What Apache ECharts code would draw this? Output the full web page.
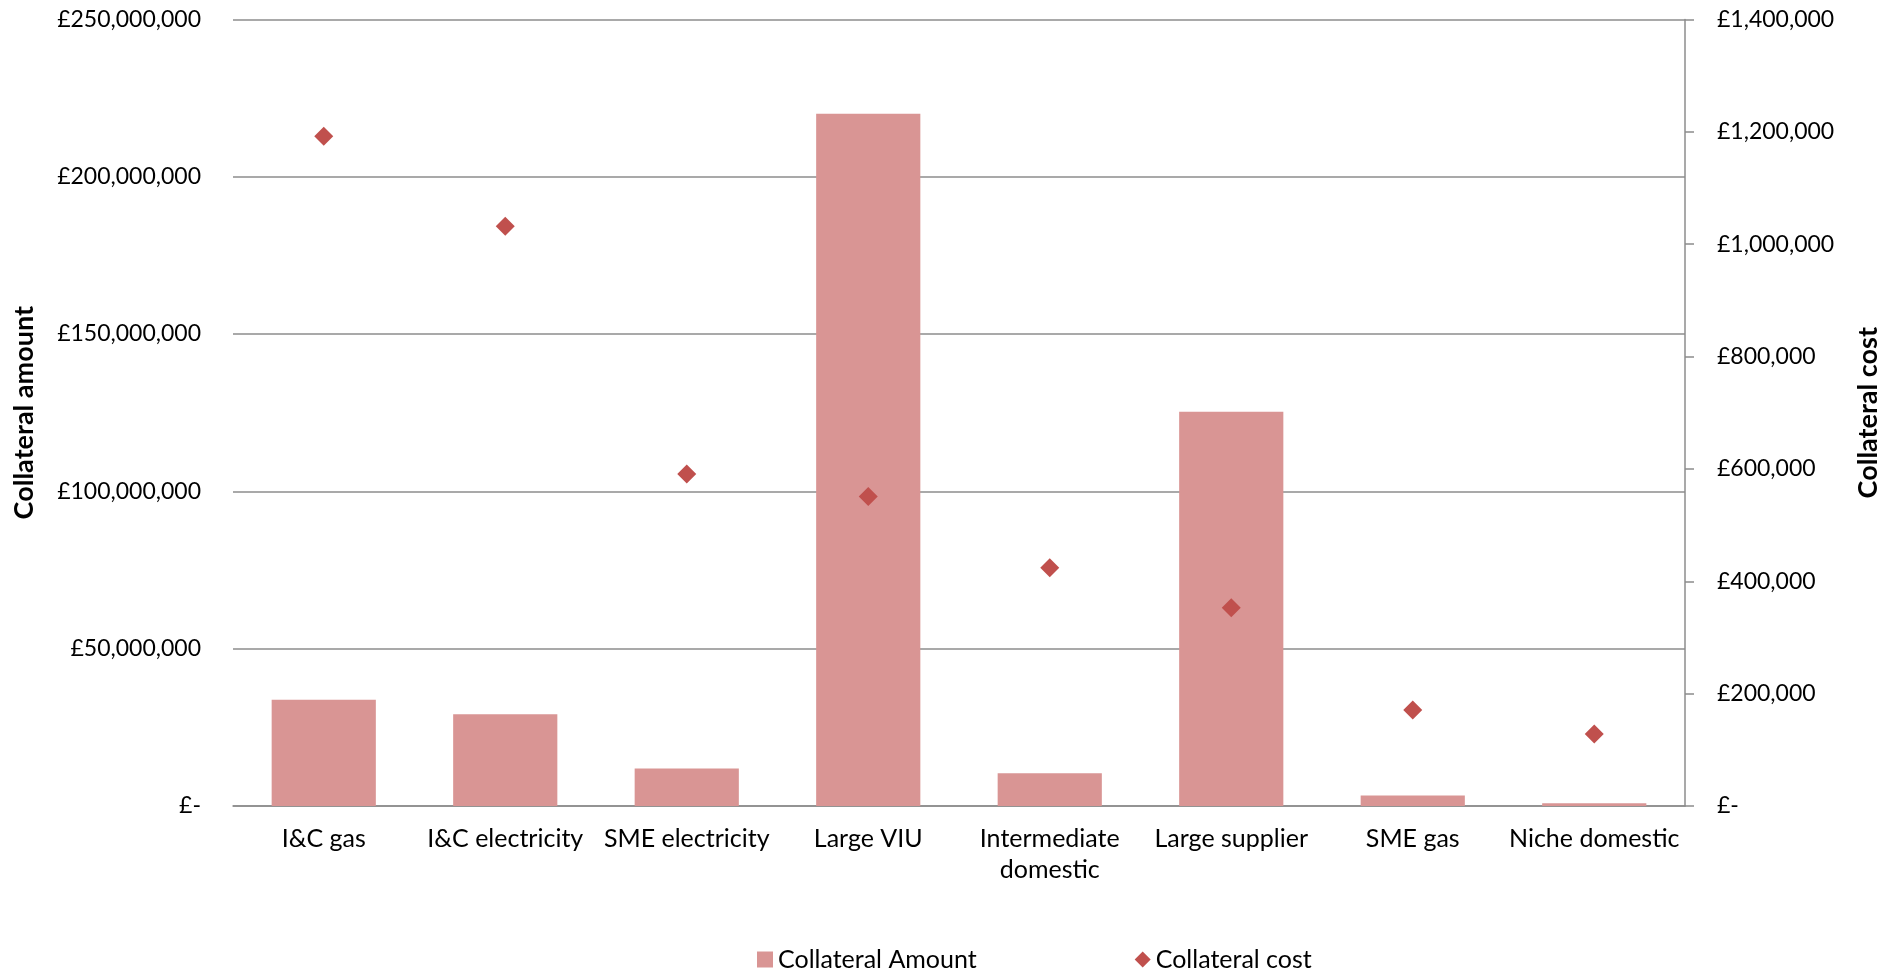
<!DOCTYPE html>
<html>
<head>
<meta charset="utf-8">
<script src="https://cdn.jsdelivr.net/npm/echarts@6/dist/echarts.min.js"></script>
<style>
  html, body { margin: 0; padding: 0; background: #ffffff; }
  #chart { width: 1901px; height: 975px; }
</style>
</head>
<body>
<div id="chart"></div>
<script>
// Supplier segments
const categories = [
  'I&C gas', 'I&C electricity', 'SME electricity', 'Large VIU',
  'Intermediate domestic', 'Large supplier', 'SME gas', 'Niche domestic'
];
// Collateral amount (£), left axis
const collateralAmount = [33800000, 29200000, 11900000, 220000000, 10400000, 125300000, 3300000, 900000];
// Collateral cost (£), right axis
const collateralCost = [1192000, 1032000, 591000, 551000, 424000, 353000, 171000, 128000];

const FONT = '"Lato", "Liberation Sans", sans-serif';
const GRID_GREY = '#8c8c8c';

function pounds(v) {
  return v === 0 ? '£-' : '£' + v.toLocaleString('en-GB');
}

const chart = echarts.init(document.getElementById('chart'), null, { renderer: 'canvas' });

chart.setOption({
  backgroundColor: '#ffffff',
  animation: false,
  textStyle: { fontFamily: FONT, color: '#000' },
  grid: { left: 233, right: 216, top: 19.4, bottom: 169, containLabel: false },
  legend: {
    left: 752,
    top: 942,
    itemWidth: 16,
    itemHeight: 16,
    itemGap: 158,
    textStyle: { fontFamily: FONT, fontSize: 25, color: '#000' },
    data: [
      { name: 'Collateral Amount', icon: 'rect' },
      { name: 'Collateral cost', icon: 'diamond', itemStyle: { color: '#C0504D', opacity: 1 } }
    ]
  },
  xAxis: {
    type: 'category',
    data: categories,
    axisLine: { show: true, lineStyle: { color: GRID_GREY, width: 1.5 } },
    axisTick: { show: false },
    axisLabel: {
      interval: 0,
      margin: 17.5,
      fontFamily: FONT,
      fontSize: 25,
      lineHeight: 31,
      color: '#000',
      formatter: function (v) {
        if (v.length > 18) {
          const i = v.lastIndexOf(' ');
          return v.slice(0, i) + '\n' + v.slice(i + 1);
        }
        return v;
      }
    }
  },
  yAxis: [
    {
      type: 'value',
      min: 0,
      max: 250000000,
      interval: 50000000,
      name: 'Collateral amount',
      nameLocation: 'middle',
      nameGap: 195,
      nameTextStyle: { fontFamily: FONT, fontSize: 27, fontWeight: 'bold', color: '#000' },
      axisLine: { show: false },
      axisTick: { show: false },
      axisLabel: { margin: 32, fontFamily: FONT, fontSize: 23, color: '#000', formatter: pounds },
      splitLine: { show: true, lineStyle: { color: GRID_GREY, width: 1.5 } }
    },
    {
      type: 'value',
      min: 0,
      max: 1400000,
      interval: 200000,
      position: 'right',
      name: 'Collateral cost',
      nameLocation: 'middle',
      nameGap: 170,
      nameRotate: 90,
      nameTextStyle: { fontFamily: FONT, fontSize: 27, fontWeight: 'bold', color: '#000' },
      axisLine: { show: true, lineStyle: { color: GRID_GREY, width: 1.5 } },
      axisTick: { show: true, inside: false, length: 9, lineStyle: { color: GRID_GREY, width: 1.5 } },
      axisLabel: { margin: 32, fontFamily: FONT, fontSize: 23, color: '#000', formatter: pounds },
      splitLine: { show: false }
    }
  ],
  series: [
    {
      name: 'Collateral Amount',
      type: 'bar',
      yAxisIndex: 0,
      data: collateralAmount,
      barCategoryGap: '42.6%',
      itemStyle: { color: '#D99594' }
    },
    {
      name: 'Collateral cost',
      type: 'scatter',
      yAxisIndex: 1,
      data: collateralCost,
      symbol: 'diamond',
      symbolSize: 19,
      itemStyle: { color: '#C0504D', opacity: 1 },
      z: 5
    }
  ]
});
</script>
</body>
</html>
